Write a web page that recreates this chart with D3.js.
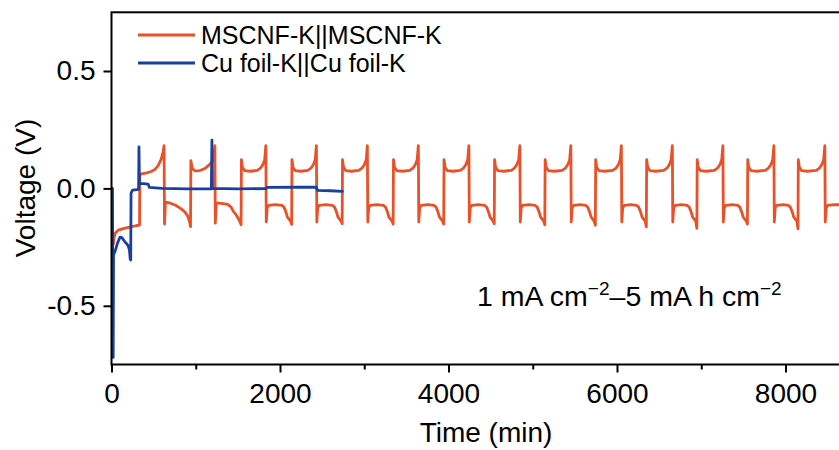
<!DOCTYPE html>
<html>
<head>
<meta charset="utf-8">
<script src="https://cdn.jsdelivr.net/npm/d3@7"></script>
<style>
  html, body { margin: 0; padding: 0; background: #fff; }
  svg { display: block; font-family: "Liberation Sans", Arial, Helvetica, sans-serif; }
</style>
</head>
<body>
<svg id="chart" width="839" height="450"></svg>
<script>
// Symmetric-cell galvanostatic cycling: time (min) vs voltage (V)
const seriesNames = ["MSCNF-K||MSCNF-K", "Cu foil-K||Cu foil-K"];
const seriesColors = ["#EA5128", "#1B3F9E"];

const xTicks = [0, 2000, 4000, 6000, 8000];
const xTickLabels = ["0", "2000", "4000", "6000", "8000"];
const xMinorTicks = [1000, 3000, 5000, 7000];
const yTicks = [-0.5, 0.0, 0.5];
const yTickLabels = ["-0.5", "0.0", "0.5"];

// MSCNF-K||MSCNF-K  [time (min), voltage (V)]
const mscnfTime = [
  20,30,45,80,150,230,300,333,
  336,370,420,470,515,555,590,612,624,
  629,640,700,760,820,870,905,925,938,
  942,958,990,1050,1110,1160,1195,1213,1227,
  1232,1244,1300,1380,1420,1450,1475,1500,1522,1538,
  1542,1554,1580,1650,1730,1767,1797,1818,1832,
  1837,1848,1867,1945,2022,2048,2070,2088,2105,2125,2138,
  2142,2154,2180,2250,2330,2367,2397,2418,2432,
  2437,2448,2467,2545,2622,2648,2670,2688,2705,2725,2738,
  2742,2754,2780,2850,2935,2972,3002,3023,3037,
  3042,3053,3072,3150,3227,3253,3275,3293,3310,3330,3343,
  3347,3359,3385,3455,3540,3577,3607,3628,3642,
  3647,3658,3677,3755,3827,3853,3875,3893,3910,3930,3943,
  3947,3959,3985,4055,4140,4177,4207,4228,4242,
  4247,4258,4277,4355,4427,4453,4475,4493,4510,4530,4543,
  4547,4559,4585,4655,4745,4782,4812,4833,4847,
  4852,4863,4882,4960,5027,5053,5075,5093,5110,5130,5143,
  5147,5159,5185,5255,5350,5387,5417,5438,5452,
  5457,5468,5487,5565,5627,5653,5675,5693,5710,5730,5743,
  5747,5759,5785,5855,5950,5987,6017,6038,6052,
  6057,6068,6087,6165,6232,6258,6280,6298,6315,6335,6348,
  6352,6364,6390,6460,6555,6592,6622,6643,6657,
  6662,6673,6692,6770,6832,6858,6880,6898,6915,6935,6948,
  6952,6964,6990,7060,7155,7192,7222,7243,7257,
  7262,7273,7292,7370,7432,7458,7480,7498,7515,7535,7548,
  7552,7564,7590,7660,7760,7797,7827,7848,7862,
  7867,7878,7897,7975,8032,8058,8080,8098,8115,8135,8148,
  8152,8164,8190,8260,8365,8402,8432,8453,8467,
  8472,8483,8502,8580,8660
];
const mscnfVoltage = [
  -0.24,-0.21,-0.19,-0.178,-0.17,-0.164,-0.158,-0.156,
  0.058,0.063,0.066,0.072,0.08,0.098,0.125,0.155,0.182,
  -0.152,-0.058,-0.063,-0.072,-0.085,-0.1,-0.118,-0.14,-0.163,
  0.118,0.085,0.075,0.076,0.085,0.1,0.115,0.14,0.182,
  -0.148,-0.062,-0.064,-0.068,-0.08,-0.1,-0.11,-0.125,-0.14,-0.155,
  0.122,0.09,0.076,0.073,0.077,0.086,0.102,0.122,0.182,
  -0.143,-0.082,-0.072,-0.069,-0.072,-0.08,-0.1,-0.122,-0.13,-0.14,-0.153,
  0.122,0.09,0.076,0.073,0.077,0.086,0.102,0.122,0.182,
  -0.143,-0.082,-0.072,-0.069,-0.072,-0.08,-0.1,-0.122,-0.13,-0.14,-0.15,
  0.122,0.09,0.076,0.073,0.077,0.086,0.102,0.122,0.182,
  -0.143,-0.082,-0.072,-0.069,-0.072,-0.08,-0.1,-0.122,-0.13,-0.14,-0.152,
  0.122,0.09,0.076,0.073,0.077,0.086,0.102,0.122,0.182,
  -0.143,-0.082,-0.072,-0.069,-0.072,-0.08,-0.1,-0.122,-0.13,-0.14,-0.152,
  0.122,0.09,0.076,0.073,0.077,0.086,0.102,0.122,0.182,
  -0.143,-0.082,-0.072,-0.069,-0.072,-0.08,-0.1,-0.122,-0.13,-0.14,-0.15,
  0.122,0.09,0.076,0.073,0.077,0.086,0.102,0.122,0.182,
  -0.143,-0.082,-0.072,-0.069,-0.072,-0.08,-0.1,-0.122,-0.13,-0.14,-0.155,
  0.122,0.09,0.076,0.073,0.077,0.086,0.102,0.122,0.182,
  -0.143,-0.082,-0.072,-0.069,-0.072,-0.08,-0.1,-0.122,-0.13,-0.14,-0.157,
  0.122,0.09,0.076,0.073,0.077,0.086,0.102,0.122,0.182,
  -0.143,-0.082,-0.072,-0.069,-0.072,-0.08,-0.1,-0.122,-0.13,-0.14,-0.164,
  0.122,0.09,0.076,0.073,0.077,0.086,0.102,0.122,0.182,
  -0.143,-0.082,-0.072,-0.069,-0.072,-0.08,-0.1,-0.122,-0.13,-0.14,-0.17,
  0.122,0.09,0.076,0.073,0.077,0.086,0.102,0.122,0.182,
  -0.143,-0.082,-0.072,-0.069,-0.072,-0.08,-0.1,-0.122,-0.13,-0.14,-0.152,
  0.122,0.09,0.076,0.073,0.077,0.086,0.102,0.122,0.182,
  -0.143,-0.082,-0.072,-0.069,-0.072,-0.08,-0.1,-0.122,-0.13,-0.14,-0.172,
  0.122,0.09,0.076,0.073,0.077,0.086,0.102,0.122,0.182,
  -0.143,-0.082,-0.072,-0.069,-0.07
];

// Cu foil-K||Cu foil-K  [time (min), voltage (V)]
const cuTime = [
  12,16,20,24,40,70,100,125,160,195,212,222,228,232,250,300,322,326,332,
  380,435,450,600,900,1185,1192,1198,1500,1830,1850,2200,2430,2445,2600,2740
];
const cuVoltage = [
  0.0,-0.72,-0.72,-0.283,-0.27,-0.235,-0.208,-0.21,-0.228,-0.242,-0.26,-0.3,-0.305,-0.02,-0.007,-0.005,-0.004,0.177,0.02,
  0.02,0.018,0.004,0.0,-0.002,-0.002,0.205,0.0,-0.002,-0.001,0.004,0.005,0.005,-0.008,-0.01,-0.013
];

const annotationParts = [
  { t: "1 mA cm", sup: false }, { t: "\u22122", sup: true },
  { t: "\u20135 mA h cm", sup: false }, { t: "\u22122", sup: true }
];

const svg = d3.select("#chart");
const plotLeft = 111.5, plotTop = 12.3, plotBottom = 364.5;

const x = d3.scaleLinear().domain([0, 9000]).range([plotLeft, plotLeft + 9 * 84.25]);
const y = d3.scaleLinear().domain([-0.75, 0.75]).range([plotBottom, plotTop]);

svg.append("defs").append("clipPath").attr("id", "plotClip")
  .append("rect").attr("x", plotLeft).attr("y", plotTop)
  .attr("width", x(9000) - plotLeft).attr("height", plotBottom - plotTop);

const line = d3.line().x(d => x(d[0])).y(d => y(d[1]));
const mscnf = d3.zip(mscnfTime, mscnfVoltage);
const cu = d3.zip(cuTime, cuVoltage);

const plot = svg.append("g").attr("clip-path", "url(#plotClip)");
[mscnf, cu].forEach((data, i) => {
  plot.append("path").datum(data)
    .attr("d", line)
    .attr("fill", "none")
    .attr("stroke", seriesColors[i])
    .attr("stroke-width", 2.8)
    .attr("stroke-linejoin", "round")
    .attr("stroke-linecap", "round");
});

// frame
svg.append("rect")
  .attr("x", plotLeft).attr("y", plotTop)
  .attr("width", x(9000) - plotLeft).attr("height", plotBottom - plotTop)
  .attr("fill", "none").attr("stroke", "#000").attr("stroke-width", 2);

// axes
const fontSize = 28;
const xAxis = svg.append("g").attr("transform", `translate(0,${plotBottom})`)
  .call(d3.axisBottom(x).tickValues(xTicks)
    .tickFormat((d, i) => xTickLabels[i]).tickSize(8).tickPadding(11));
const xMinor = svg.append("g").attr("transform", `translate(0,${plotBottom})`)
  .call(d3.axisBottom(x).tickValues(xMinorTicks).tickFormat("").tickSize(5));
const yAxis = svg.append("g").attr("transform", `translate(${plotLeft},0)`)
  .call(d3.axisLeft(y).tickValues(yTicks)
    .tickFormat((d, i) => yTickLabels[i]).tickSize(8).tickPadding(8));

[xAxis, xMinor, yAxis].forEach(g => {
  g.select(".domain").remove();
  g.selectAll(".tick line").attr("stroke", "#000").attr("stroke-width", 2);
  g.selectAll(".tick text").attr("fill", "#000")
    .attr("font-size", fontSize).attr("font-family", "Liberation Sans, Arial, sans-serif");
});

// axis titles
svg.append("text")
  .attr("x", 486).attr("y", 442)
  .attr("text-anchor", "middle")
  .attr("font-size", 28).attr("fill", "#000")
  .text("Time (min)");

svg.append("text")
  .attr("transform", "translate(35,188) rotate(-90)")
  .attr("text-anchor", "middle")
  .attr("font-size", 28).attr("fill", "#000")
  .text("Voltage (V)");

// legend
const legend = svg.append("g");
seriesNames.forEach((name, i) => {
  const ly = 35 + i * 28;
  legend.append("line")
    .attr("x1", 138).attr("x2", 195).attr("y1", ly).attr("y2", ly)
    .attr("stroke", seriesColors[i]).attr("stroke-width", 2.8);
  legend.append("text")
    .attr("x", 201).attr("y", ly).attr("dy", "0.35em")
    .attr("font-size", 25).attr("fill", "#000")
    .text(name);
});

// test condition annotation
const ann = svg.append("text")
  .attr("x", 477).attr("y", 306)
  .attr("font-size", 28.5).attr("fill", "#000");
annotationParts.forEach((p, i) => {
  ann.append("tspan")
    .attr("font-size", p.sup ? 19 : null)
    .attr("dy", p.sup ? -11 : (i ? 11 : 0))
    .text(p.t);
});
</script>
</body>
</html>
